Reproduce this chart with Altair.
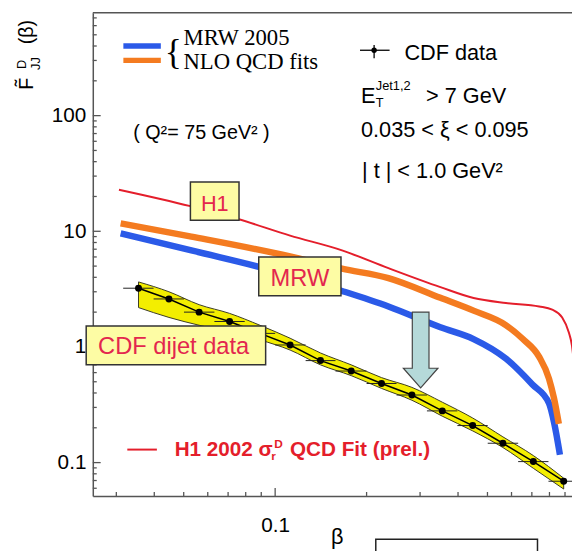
import altair as alt
import pandas as pd

# ---------------- data ----------------
# H1 2002 sigma_r^D QCD fit (red thin line)
h1_beta = [0.0306, 0.0526, 0.0760, 0.112, 0.166, 0.236, 0.350, 0.450, 0.575, 0.740, 0.817, 0.881, 0.926, 0.949, 0.964]
h1_f = [22.9, 16.5, 12.7, 9.17, 6.84, 4.80, 3.29, 2.65, 2.40, 2.24, 2.10, 1.80, 1.34, 1.02, 0.71]

# MRW 2005 NLO QCD fits (orange, blue)
orange_beta = [0.0310, 0.0530, 0.112, 0.166, 0.236, 0.350, 0.450, 0.576, 0.654, 0.740, 0.797, 0.828, 0.859]
orange_f = [11.7, 9.0, 6.07, 4.75, 3.94, 2.66, 2.06, 1.54, 1.17, 0.82, 0.533, 0.360, 0.216]

blue_beta = [0.0310, 0.0530, 0.112, 0.166, 0.236, 0.350, 0.450, 0.576, 0.703, 0.797, 0.829, 0.866]
blue_f = [9.6, 6.83, 4.18, 3.05, 2.24, 1.48, 1.17, 0.79, 0.473, 0.326, 0.220, 0.117]

# CDF dijet data
cdf_beta = [0.0355, 0.0447, 0.0562, 0.0708, 0.0891, 0.112, 0.141, 0.178, 0.224, 0.282, 0.355, 0.447, 0.562, 0.708, 0.891]
cdf_f = [3.22, 2.60, 2.00, 1.66, 1.31, 1.04, 0.762, 0.619, 0.483, 0.384, 0.280, 0.209, 0.147, 0.102, 0.069]
cdf_beta_lo = [0.0316, 0.0398, 0.0501, 0.0631, 0.0794, 0.100, 0.126, 0.158, 0.200, 0.251, 0.316, 0.398, 0.501, 0.631, 0.794]
cdf_beta_hi = [0.0398, 0.0501, 0.0631, 0.0794, 0.100, 0.126, 0.158, 0.200, 0.251, 0.316, 0.398, 0.501, 0.631, 0.794, 0.955]
band_hi = [3.65, 3.00, 2.32, 1.95, 1.54, 1.19, 0.887, 0.70, 0.543, 0.447, 0.333, 0.243, 0.167, 0.115, 0.0733]
band_lo = [2.19, 1.80, 1.54, 1.34, 1.15, 0.94, 0.70, 0.565, 0.438, 0.346, 0.252, 0.188, 0.135, 0.0893, 0.0591]

# axes
x_domain = [0.0251, 0.949]
y_domain = [0.0515, 775]
x_major = [0.1]
x_minor = [0.03, 0.04, 0.05, 0.06, 0.07, 0.08, 0.09, 0.2, 0.3, 0.4, 0.5, 0.6, 0.7, 0.8, 0.9]
y_major = [0.1, 1, 10, 100]
y_minor = [0.06, 0.07, 0.08, 0.09, 0.2, 0.3, 0.4, 0.5, 0.6, 0.7, 0.8, 0.9,
           2, 3, 4, 5, 6, 7, 8, 9, 20, 30, 40, 50, 60, 70, 80, 90,
           200, 300, 400, 500, 600, 700]

W, H = 486, 490
SANS = "Liberation Sans"
SERIF = "Liberation Serif"
AXC = "#555555"
BOXFILL = "#fdfca4"
BOXTXT = "#e3264e"
RED = "#e41e2b"

xscale = alt.Scale(type="log", domain=x_domain, nice=False)
yscale = alt.Scale(type="log", domain=y_domain, nice=False)
xaxis = alt.Axis(values=x_major, format="~g", ticks=False, grid=False, domainColor=AXC,
                 domainWidth=1.5, labelFont=SANS, labelFontSize=21, labelColor="black",
                 labelPadding=19, title=None)
yaxis = alt.Axis(values=y_major, format="~g", ticks=False, grid=False, domainColor=AXC,
                 domainWidth=1.5, labelFont=SANS, labelFontSize=21, labelColor="black",
                 labelPadding=7, title=None)


def X(f):
    return alt.X(f"{f}:Q", scale=xscale, axis=xaxis)


def Y(f):
    return alt.Y(f"{f}:Q", scale=yscale, axis=yaxis)


one = pd.DataFrame({"t": [""]})


def txt(s, x, y, size, color="black", font=SANS, weight="normal", align="left", angle=0):
    return alt.Chart(pd.DataFrame({"t": [s]})).mark_text(
        align=align, baseline="alphabetic", fontSize=size, font=font,
        fontWeight=weight, color=color, angle=angle
    ).encode(x=alt.value(x), y=alt.value(y), text="t:N")


def box(x1, y1, x2, y2, fill=BOXFILL, stroke="#333333"):
    return alt.Chart(one).mark_rect(fill=fill, stroke=stroke, strokeWidth=1.5).encode(
        x=alt.value(x1), x2=alt.value(x2), y=alt.value(y1), y2=alt.value(y2))


def seg(x1, x2, y, color, width):
    return alt.Chart(one).mark_rule(color=color, strokeWidth=width).encode(
        x=alt.value(x1), x2=alt.value(x2), y=alt.value(y))


cdf = pd.DataFrame({"beta": cdf_beta, "f": cdf_f, "lo": cdf_beta_lo, "hi": cdf_beta_hi,
                    "bhi": band_hi, "blo": band_lo})

layers = []

# tick marks (inside)
layers.append(alt.Chart(pd.DataFrame({"v": x_major})).mark_rule(color=AXC, strokeWidth=1.3).encode(
    x=X("v"), y=alt.value(H), y2=alt.value(H - 8)))
layers.append(alt.Chart(pd.DataFrame({"v": x_minor})).mark_rule(color=AXC, strokeWidth=1.3).encode(
    x=X("v"), y=alt.value(H), y2=alt.value(H - 4)))
layers.append(alt.Chart(pd.DataFrame({"v": y_major})).mark_rule(color=AXC, strokeWidth=1.3).encode(
    y=Y("v"), x=alt.value(0), x2=alt.value(8)))
layers.append(alt.Chart(pd.DataFrame({"v": y_minor})).mark_rule(color=AXC, strokeWidth=1.3).encode(
    y=Y("v"), x=alt.value(0), x2=alt.value(4)))
# top frame
layers.append(alt.Chart(one).mark_rule(color=AXC, strokeWidth=1.5).encode(
    x=alt.value(0), x2=alt.value(W), y=alt.value(0)))

# CDF band, line, error bars, points
layers.append(alt.Chart(cdf).mark_area(fill="#f3ee00", stroke="#3a3a20", strokeWidth=1,
                                       interpolate="monotone", opacity=1, clip=True).encode(
    x=X("beta"), y=Y("bhi"), y2="blo:Q"))
layers.append(alt.Chart(cdf).mark_line(color="black", strokeWidth=1.5, clip=True).encode(
    x=X("beta"), y=Y("f")))
layers.append(alt.Chart(cdf).mark_rule(color="#222222", strokeWidth=1, clip=True).encode(
    x=X("lo"), x2="hi:Q", y=Y("f")))
layers.append(alt.Chart(cdf).mark_point(filled=True, color="black", size=50, opacity=1, clip=True).encode(
    x=X("beta"), y=Y("f")))

# theory curves
layers.append(alt.Chart(pd.DataFrame({"beta": blue_beta, "f": blue_f})).mark_line(
    color="#2b5ae8", strokeWidth=6.5, interpolate="monotone", clip=True).encode(x=X("beta"), y=Y("f")))
layers.append(alt.Chart(pd.DataFrame({"beta": orange_beta, "f": orange_f})).mark_line(
    color="#f47b20", strokeWidth=6.5, interpolate="monotone", clip=True).encode(x=X("beta"), y=Y("f")))
layers.append(alt.Chart(pd.DataFrame({"beta": h1_beta, "f": h1_f})).mark_line(
    color=RED, strokeWidth=2, interpolate="monotone", clip=True).encode(x=X("beta"), y=Y("f")))

# callout boxes
layers.append(box(99, 171.7, 148.3, 210.3))
layers.append(txt("H1", 123.7, 201, 22, color=BOXTXT, align="center"))
layers.append(box(168.3, 247.7, 251.7, 287))
layers.append(txt("MRW", 210, 277, 24, color=BOXTXT, align="center"))
layers.append(box(-6.7, 317.7, 175.3, 357))
layers.append(txt("CDF dijet data", 82, 346.3, 24, color=BOXTXT, align="center"))

# arrow
layers.append(alt.Chart(one).mark_point(
    shape="M -0.22 -1 L 0.22 -1 L 0.22 0.48 L 0.455 0.48 L 0 1 L -0.455 0.48 L -0.22 0.48 Z",
    size=5929, filled=True, fill="#b5d9d9", stroke="#444444", strokeWidth=1.2, opacity=1
).encode(x=alt.value(332.5), y=alt.value(342)))

# legend top-left
layers.append(seg(31, 69, 33.7, "#2b5ae8", 5.5))
layers.append(seg(31, 69, 48.3, "#f47b20", 5.5))
layers.append(txt("{", 73, 52, 36, font=SERIF))
layers.append(txt("MRW 2005", 92, 32.7, 23, font=SERIF))
layers.append(txt("NLO QCD fits", 92, 57.5, 23, font=SERIF))
layers.append(txt("( Q²= 75 GeV² )", 41, 127.7, 20))

# right text block
layers.append(seg(271, 301, 38, "black", 1.3))
layers.append(alt.Chart(one).mark_rule(color="black", strokeWidth=1.3).encode(
    x=alt.value(285.3), y=alt.value(32.7), y2=alt.value(46)))
layers.append(alt.Chart(one).mark_point(filled=True, color="black", size=30, opacity=1).encode(
    x=alt.value(285.3), y=alt.value(38)))
layers.append(txt("CDF data", 316, 47.7, 22))
layers.append(txt("E", 272, 91, 22))
layers.append(txt("Jet1,2", 287, 78, 13))
layers.append(txt("T", 287, 96, 13))
layers.append(txt("> 7 GeV", 338, 91, 22))
layers.append(txt("0.035 < ξ < 0.095", 272, 126, 22))
layers.append(txt("| t | < 1.0 GeV²", 273, 167.7, 22))

# H1 legend (bottom)
layers.append(seg(35, 65, 443, RED, 2))
layers.append(txt("H1 2002 σ", 83, 450, 21, color=RED, weight="bold"))
layers.append(txt("r", 181, 454, 12, color=RED, weight="bold"))
layers.append(txt("D", 184, 441, 12, color=RED, weight="bold"))
layers.append(txt("QCD Fit (prel.)", 200, 450, 21, color=RED, weight="bold"))

# axis titles
layers.append(txt("F̃", -61, 78, 20, angle=270))
layers.append(txt("D", -68, 57, 13, angle=270))
layers.append(txt("JJ", -54, 58, 13, angle=270))
layers.append(txt("(β)", -61, 32, 20, angle=270))
layers.append(txt("β", 248, 539, 22, align="center"))
layers.append(box(287, 534, 451, 570, fill="white", stroke="#222222"))

chart = alt.layer(*layers).properties(
    width=W, height=H,
    padding={"left": 86, "top": 1, "right": 0, "bottom": 52},
    autosize=alt.AutoSizeParams(type="none"),
).configure_view(stroke=None)

chart.save("out.html", embed_options={"renderer": "svg", "actions": False})
